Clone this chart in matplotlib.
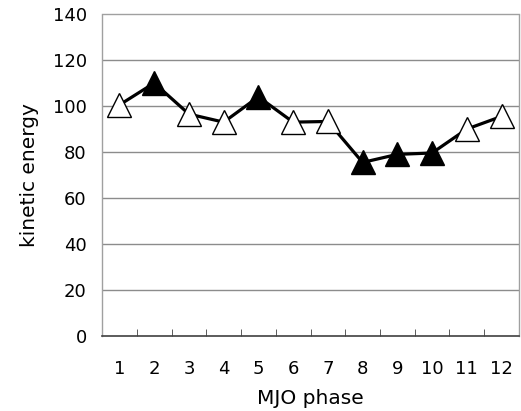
import numpy as np
import matplotlib.pyplot as plt

# MJO phase vs kinetic energy
phases = [1, 2, 3, 4, 5, 6, 7, 8, 9, 10, 11, 12]
energy = [100.5, 110, 96.5, 93, 104, 93, 93.3, 75.5, 79, 79.6, 90, 95.5]
filled = [False, True, False, False, True, False, False, True, True, True, False, False]

fig = plt.figure(figsize=(5.21, 4.11), dpi=100)
ax = fig.add_axes([0.196, 0.182, 0.8, 0.784])

x = np.arange(len(phases))
ax.plot(x, energy, color="black", linewidth=2.3, zorder=3)
for xi, yi, f in zip(x, energy, filled):
    ax.plot(xi, yi, marker="^", markersize=17, markeredgewidth=1.0,
            markeredgecolor="black", markerfacecolor="black" if f else "white",
            linestyle="none", zorder=4)

ax.set_xlim(-0.5, len(phases) - 0.5)
ax.set_ylim(0, 140)
ax.set_yticks(np.arange(0, 141, 20))
for yv in range(20, 121, 20):
    ax.axhline(yv, color="#8c8c8c", linewidth=1.0, zorder=1)

# category labels between boundary ticks
ax.set_xticks(x)
ax.set_xticklabels([str(p) for p in phases])
ax.set_xticks(np.arange(0.5, len(phases) - 0.5, 1), minor=True)
ax.tick_params(axis="x", which="major", length=0, pad=17, labelsize=13)
ax.tick_params(axis="x", which="minor", direction="in", length=5, color="#404040")
ax.tick_params(axis="y", length=0, pad=11, labelsize=13)

for s in ["left", "right", "top"]:
    ax.spines[s].set_color("#a0a0a0")
    ax.spines[s].set_linewidth(1.0)
ax.spines["left"].set_linestyle((0, (1, 1)))
ax.spines["right"].set_linestyle((0, (1, 1)))
ax.spines["bottom"].set_color("#404040")
ax.spines["bottom"].set_linewidth(1.2)

ax.set_xlabel("MJO phase", fontsize=14.5, labelpad=8)
ax.set_ylabel("kinetic energy", fontsize=14.5, labelpad=10)

fig.savefig("out.png", dpi=100)
